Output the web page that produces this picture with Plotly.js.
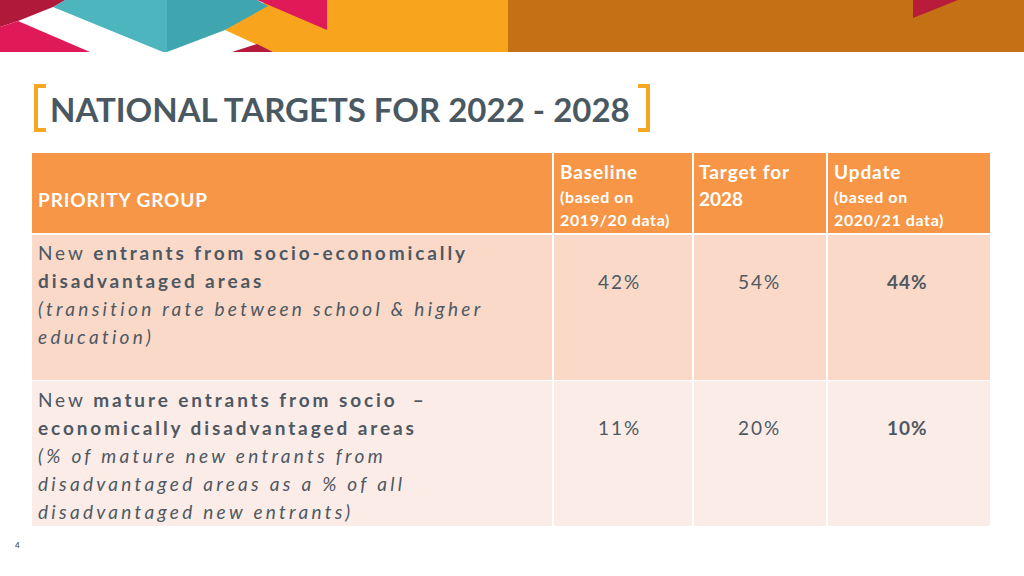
<!DOCTYPE html>
<html>
<head>
<meta charset="utf-8">
<script src="https://cdn.plot.ly/plotly-3.0.1.min.js"></script>
<style>html,body{margin:0;padding:0;background:#fff;} #chart{width:1024px;height:576px;}</style>
</head>
<body>
<div id="chart"></div>
<script>
// ---- data ----
const slideTitle = "NATIONAL TARGETS FOR 2022 - 2028";
const firstHeader = "PRIORITY GROUP";
const columnHeaders = ["Baseline", "Target for", "Update"];
const columnHeaderLine2 = ["(based on", "2028", "(based on"];
const columnHeaderLine3 = ["2019/20 data)", "", "2020/21 data)"];
const group1Lines = [
  "New <b>entrants from socio-economically</b>",
  "<b>disadvantaged areas</b>",
  "<i>(transition rate between school & higher</i>",
  "<i>education)</i>"
];
const group2Lines = [
  "New <b>mature entrants from socio  –</b>",
  "<b>economically disadvantaged areas</b>",
  "<i>(% of mature new entrants from</i>",
  "<i>disadvantaged areas as a % of all</i>",
  "<i>disadvantaged new entrants)</i>"
];
const baselineValues = [42, 11];
const targetValues = [54, 20];
const updateValues = [44, 10];
const pageNumber = "4";

// ---- styles / layout geometry ----
const FONT = "Lato, 'Open Sans', sans-serif";
const TEXT = "#4d5862";
const HEAD = "#f79646";
const ROWFILL = ["#fad9c9", "#fcece8"];
const colX = [[32, 552], [554, 692], [694, 826], [828, 990]];
const rowY = [[153, 233], [235, 380], [381, 526]];

const shapes = [];
const annotations = [];
function poly(pts, color) {
  shapes.push({type: "path", xref: "x", yref: "y", layer: "below",
    path: "M" + pts.map(p => p[0] + " " + p[1]).join(" L") + " Z",
    fillcolor: color, line: {width: 0}});
}
function rect(x0, y0, x1, y1, color) {
  shapes.push({type: "rect", xref: "x", yref: "y", layer: "below", x0, y0, x1, y1,
    fillcolor: color, line: {width: 0}});
}
function txt(x, y, text, size, color, opts) {
  opts = opts || {};
  annotations.push(Object.assign({xref: "x", yref: "y", x, y, text, showarrow: false,
    xanchor: "left", yanchor: "middle", align: "left",
    font: {family: FONT, size, color}}, opts));
}
function spaced(s, sp) { return '<span style="letter-spacing:' + sp + 'px">' + s + '</span>'; }
function bodyLine(s) {
  // italic lines are a little more open than the regular/bold ones
  return spaced(s, s.indexOf("<i>") === 0 ? 3.3 : 2.9);
}

// banner
rect(508, 0, 1024, 52, "#c47015");
poly([[913, 0], [958, 0], [913, 18]], "#b81c3a");
poly([[225, 30], [264, 3], [268, 0], [508, 0], [508, 52], [273, 52]], "#f8a51d");
poly([[257, 0], [327, 0], [327, 30]], "#e01a58");
poly([[232, 52], [257, 44], [273, 52]], "#b31a3c");
poly([[65, 0], [167, 0], [167, 52], [163, 52], [53, 7]], "#4db5bd");
poly([[167, 0], [257, 0], [268, 6], [225, 30], [167, 52]], "#3fa6b0");
poly([[0, 0], [65, 0], [53, 7], [18, 21], [0, 27]], "#b0193a");
poly([[0, 27], [18, 21], [90, 52], [0, 52]], "#e01a58");

// title brackets
shapes.push({type: "path", xref: "x", yref: "y", path: "M46 86 L36 86 L36 130 L46 130",
  line: {color: "#f5a623", width: 4}});
shapes.push({type: "path", xref: "x", yref: "y", path: "M638 86 L648 86 L648 130 L638 130",
  line: {color: "#f5a623", width: 4}});
txt(48, 109, "<b>" + slideTitle + "</b>", 33, "#4a5862");

// table cells
for (let c = 0; c < 4; c++) {
  rect(colX[c][0], rowY[0][0], colX[c][1], rowY[0][1], HEAD);
  rect(colX[c][0], rowY[1][0], colX[c][1], rowY[1][1], ROWFILL[0]);
  rect(colX[c][0], rowY[2][0], colX[c][1], rowY[2][1], ROWFILL[1]);
}

// header text
txt(36, 199, spaced("<b>" + firstHeader + "</b>", 0.9), 19, "#ffffff");
const headTextX = [558, 697, 832];
for (let i = 0; i < 3; i++) {
  txt(headTextX[i], 171, spaced("<b>" + columnHeaders[i] + "</b>", 0.9), 19, "#ffffff");
  if (columnHeaderLine3[i] === "") {
    txt(headTextX[i], 198, "<b>" + columnHeaderLine2[i] + "</b>", 19, "#ffffff");
  } else {
    txt(headTextX[i], 196, spaced("<b>" + columnHeaderLine2[i] + "</b>", 0.6), 16, "#ffffff");
    txt(headTextX[i], 219, spaced("<b>" + columnHeaderLine3[i] + "</b>", 0.6), 16, "#ffffff");
  }
}

// row text
group1Lines.forEach((l, i) => txt(36, 252 + i * 28, bodyLine(l), 19, TEXT));
group2Lines.forEach((l, i) => txt(36, 399 + i * 28, bodyLine(l), 19, TEXT));

const valueRowY = [281, 427];
const valueColX = [619, 759, 907];
for (let r = 0; r < 2; r++) {
  txt(valueColX[0], valueRowY[r], spaced(baselineValues[r] + "%", 2), 19, TEXT, {xanchor: "center", align: "center"});
  txt(valueColX[1], valueRowY[r], spaced(targetValues[r] + "%", 2), 19, TEXT, {xanchor: "center", align: "center"});
  txt(valueColX[2], valueRowY[r], spaced("<b>" + updateValues[r] + "%</b>", 1), 19, TEXT, {xanchor: "center", align: "center"});
}

txt(17, 545, pageNumber, 8, "#333333", {xanchor: "center"});

const layout = {
  width: 1024, height: 576,
  margin: {l: 0, r: 0, t: 0, b: 0, pad: 0},
  paper_bgcolor: "#ffffff", plot_bgcolor: "#ffffff",
  showlegend: false,
  xaxis: {range: [0, 1024], visible: false, fixedrange: true},
  yaxis: {range: [576, 0], visible: false, fixedrange: true},
  shapes, annotations
};
Plotly.newPlot("chart", [{x: [], y: [], type: "scatter", hoverinfo: "skip"}], layout,
  {staticPlot: true, displayModeBar: false});
</script>
</body>
</html>
